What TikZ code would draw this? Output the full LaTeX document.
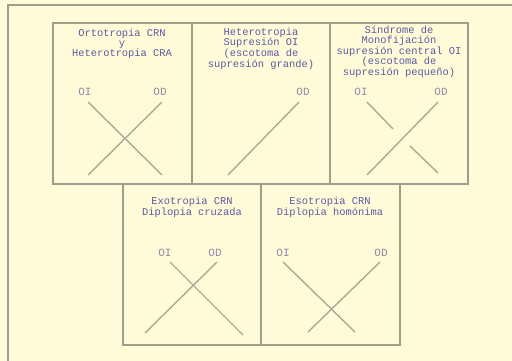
\documentclass[tikz,border=0pt]{standalone}
\usepackage{fontspec}
\setmonofont{Liberation Mono}
\usetikzlibrary{positioning}
\definecolor{paper}{RGB}{255,251,217}
\definecolor{framegray}{RGB}{160,157,140}
\definecolor{textblue}{RGB}{92,90,160}
\definecolor{eyegray}{RGB}{142,138,170}
\definecolor{linegray}{RGB}{172,170,148}
\tikzset{
  panel/.style={rectangle, draw=framegray, line width=2pt, inner sep=0pt, outer sep=0pt},
  ttl/.style={font=\fontsize{10.4}{9.5}\selectfont\ttfamily, text=textblue, align=center, inner sep=0pt},
  eye/.style={font=\fontsize{11}{11}\selectfont\ttfamily, text=eyegray, inner sep=0pt},
  img/.style={draw=linegray, line width=1.4pt}
}
\begin{document}
\begin{tikzpicture}[x=1pt, y=-1pt]
  \fill[paper] (0,0) rectangle (512,361);
  \useasboundingbox (0,0) rectangle (512,361);
  \draw[framegray, line width=2pt] (512,5) -- (8,5) -- (8,361);
  % panels
  \node[panel, minimum width=139pt, minimum height=161pt] (p1) at (122.5,103.5) {};
  \node[panel, minimum width=138pt, minimum height=161pt] (p2) at (261,103.5) {};
  \node[panel, minimum width=138pt, minimum height=161pt] (p3) at (399,103.5) {};
  \node[panel, minimum width=138pt, minimum height=161pt] (p4) at (192,264.5) {};
  \node[panel, minimum width=139pt, minimum height=161pt] (p5) at (330.5,264.5) {};
  % titles
  \node[ttl] (t1) at (122,44) {Ortotropia CRN\\y\\Heterotropia CRA};
  \node[ttl] (t2) at (261,48.5) {Heterotropia\\Supresión OI\\(escotoma de\\supresión grande)};
  \node[ttl] (t3) at (399,52) {Síndrome de\\Monofijación\\supresión central OI\\(escotoma de\\supresión pequeño)};
  \node[ttl] (t4) at (192,207.5) {Exotropia CRN\\Diplopia cruzada};
  \node[ttl] (t5) at (330,207.5) {Esotropia CRN\\Diplopia homónima};
  % eye labels
  \node[eye] (oi1) at (85,92) {OI};
  \node[eye] (od1) at (160,92) {OD};
  \node[eye] (od2) at (303,92) {OD};
  \node[eye] (oi3) at (361,92) {OI};
  \node[eye] (od3) at (441,92) {OD};
  \node[eye] (oi4) at (165,253) {OI};
  \node[eye] (od4) at (215,253) {OD};
  \node[eye] (oi5) at (283,253) {OI};
  \node[eye] (od5) at (381,253) {OD};
  % line ends
  \coordinate (a1) at (88,102);  \coordinate (b1) at (162,175);
  \coordinate (c1) at (162,102); \coordinate (d1) at (88,175);
  \coordinate (c2) at (299,102); \coordinate (d2) at (228,175);
  \coordinate (a3) at (367,102); \coordinate (m3) at (393,129);
  \coordinate (n3) at (410,146); \coordinate (b3) at (438,173);
  \coordinate (c3) at (438,102); \coordinate (d3) at (367,175);
  \coordinate (a4) at (170,262); \coordinate (b4) at (243,335);
  \coordinate (c4) at (217,262); \coordinate (d4) at (145,333);
  \coordinate (a5) at (283,262); \coordinate (b5) at (355,332);
  \coordinate (c5) at (380,262); \coordinate (d5) at (308,332);
  % images
  \draw[img] (a1) -- (b1);
  \draw[img] (c1) -- (d1);
  \draw[img] (c2) -- (d2);
  \draw[img] (a3) -- (m3);
  \draw[img] (n3) -- (b3);
  \draw[img] (c3) -- (d3);
  \draw[img] (a4) -- (b4);
  \draw[img] (c4) -- (d4);
  \draw[img] (a5) -- (b5);
  \draw[img] (c5) -- (d5);
\end{tikzpicture}
\end{document}
